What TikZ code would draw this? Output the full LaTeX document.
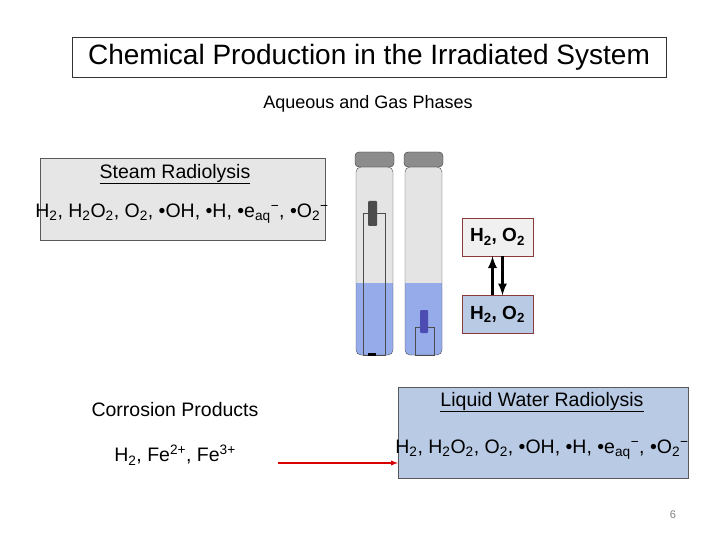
\documentclass[tikz,border=0pt]{standalone}
\usepackage{fontspec}
\setmainfont{Liberation Sans}
\definecolor{steamgray}{HTML}{E6E6E6}
\definecolor{liquidblue}{HTML}{B8CAE4}
\definecolor{waterblue}{HTML}{95ABEA}
\definecolor{glassgray}{HTML}{E4E4E4}
\definecolor{capgray}{HTML}{8C8C8C}
\definecolor{boxred}{HTML}{8A3A3A}
\newcommand{\sub}[1]{\textsubscript{#1}}
\newcommand{\sps}[1]{\textsuperscript{#1}}
\tikzset{
  panel/.style={draw=gray!70!black, inner sep=0pt},
  gasbox/.style={draw=boxred, minimum width=71pt, minimum height=38pt, font=\bfseries\fontsize{19}{22}\selectfont},
  label/.style={font=\fontsize{19.5}{22}\selectfont},
  vial/.style={draw=gray!60!black, rounded corners=5pt}
}
\newcommand{\vialat}[1]{% left x
  \fill[glassgray, rounded corners=5pt] (#1,167) rectangle ++(37,188);
  \fill[waterblue, rounded corners=5pt] (#1,283) rectangle ++(37,72);
  \fill[waterblue] (#1,283) rectangle ++(37,20);
  \draw[vial] (#1,167) rectangle ++(37,188);
  \fill[capgray, draw=gray!40!black, rounded corners=4pt] (#1-1,152) rectangle ++(39,15);
}
\begin{document}
\begin{tikzpicture}[x=1pt,y=-1pt]
\useasboundingbox (0,0) rectangle (720,540);
% title
\node[draw=black!80, minimum width=594pt, minimum height=40pt, font=\fontsize{28}{32}\selectfont] (title) at (369,57) {Chemical Production in the Irradiated System};
\node[font=\fontsize{18}{21}\selectfont] (phases) at (368,104) {Aqueous and Gas Phases};
% steam radiolysis
\node[panel, fill=steamgray, minimum width=285pt, minimum height=82pt] (steam) at (182.5,199) {};
\node[label] (steamt) at (175,174) {\underline{Steam Radiolysis}};
\node[label] (steamf) at (182,214) {H\sub{2}, H\sub{2}O\sub{2}, O\sub{2}, •OH, •H, •e\sub{aq}\sps{−}, •O\sub{2}\sps{−}};
% vials
\vialat{356}
\vialat{405}
\draw[gray!60!black] (363,213) rectangle (385,355);
\fill[gray!60!black, rounded corners=1pt] (368,201) rectangle (377,226);
\draw[gray!60!black] (415,327) rectangle (434,355);
\fill[blue!40!gray, rounded corners=1pt] (420,310) rectangle (428,333);
\fill[black] (368,353) rectangle (376,356);
% gas / liquid exchange
\node[gasbox, fill=steamgray!60!white] (gas) at (497.5,237) {H\sub{2}, O\sub{2}};
\node[gasbox, fill=liquidblue] (liq) at (497.5,314.5) {H\sub{2}, O\sub{2}};
\draw[-latex, line width=3pt] ([xshift=-5pt]liq.north) -- ([xshift=-5pt]gas.south);
\draw[-latex, line width=3pt] ([xshift=5pt]gas.south) -- ([xshift=5pt]liq.north);
% corrosion
\node[label] (corrt) at (175,410) {Corrosion Products};
\node[label] (corrf) at (175,455) {H\sub{2}, Fe\sps{2+}, Fe\sps{3+}};
% liquid water radiolysis
\node[panel, fill=liquidblue, minimum width=290pt, minimum height=91pt] (water) at (543,432.5) {};
\node[label] (watert) at (542,402) {\underline{Liquid Water Radiolysis}};
\node[label] (waterf) at (542,450) {H\sub{2}, H\sub{2}O\sub{2}, O\sub{2}, •OH, •H, •e\sub{aq}\sps{−}, •O\sub{2}\sps{−}};
\coordinate (corre) at (278,463);
\draw[-latex, red!85!black, line width=1.3pt] (corre) -- (corre -| water.west);
\node[font=\fontsize{11}{12}\selectfont, text=gray] (page) at (673,515) {6};
\end{tikzpicture}
\end{document}
